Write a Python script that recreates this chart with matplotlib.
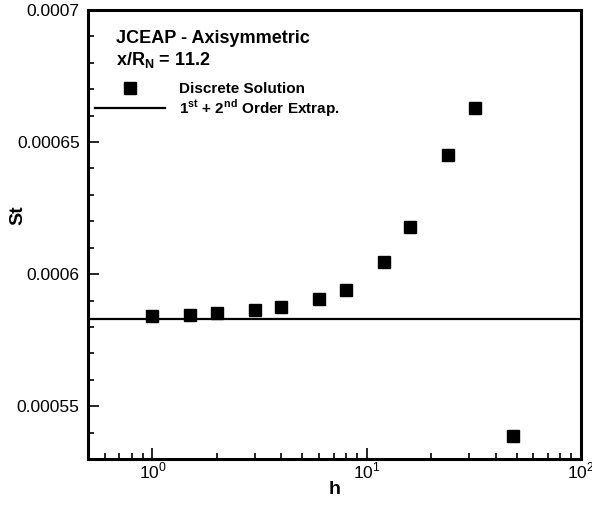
import math
import matplotlib
matplotlib.use('Agg')
import matplotlib.pyplot as plt
from matplotlib.ticker import MultipleLocator, FuncFormatter, LogLocator
from matplotlib.lines import Line2D

plt.rcParams['font.family'] = ['Liberation Sans', 'DejaVu Sans']
plt.rcParams['mathtext.fontset'] = 'custom'
plt.rcParams['mathtext.rm'] = 'Liberation Sans'
plt.rcParams['mathtext.bf'] = 'Liberation Sans:bold'

# grid spacing h and Stanton number from the discrete solutions
h = [1, 1.5, 2, 3, 4, 6, 8, 12, 16, 24, 32, 48]
st = [0.0005840, 0.0005845, 0.0005854, 0.0005864, 0.0005877, 0.0005907,
      0.0005940, 0.0006046, 0.0006177, 0.0006450, 0.0006630, 0.0005386]
st_extrap = 0.000583  # 1st + 2nd order extrapolated value

fig = plt.figure(figsize=(5.92, 5.08), dpi=100)
ax = fig.add_axes([88 / 592, 1 - 459 / 508, 493 / 592, 449 / 508])

ax.set_xscale('log')
ax.plot(h, st, 's', color='black', markersize=8.5, linestyle='none')
ax.axhline(st_extrap, color='black', linewidth=1.6)

ax.set_xlim(0.5, 100)
ax.set_ylim(0.00053, 0.0007)

ax.yaxis.set_major_locator(MultipleLocator(0.00005))
ax.yaxis.set_minor_locator(MultipleLocator(0.00001))
ax.yaxis.set_major_formatter(FuncFormatter(lambda v, p: ('%.5f' % v).rstrip('0')))
ax.xaxis.set_major_locator(LogLocator(base=10))
ax.xaxis.set_minor_locator(LogLocator(base=10, subs=range(2, 10)))
ax.xaxis.set_major_formatter(FuncFormatter(lambda v, p: r'10$^{%d}$' % round(math.log10(v))))

ax.tick_params(which='both', direction='in', top=False, right=False,
               labelsize=12.5, width=1.2, pad=6)
ax.tick_params(axis='x', which='both', pad=1)
ax.tick_params(which='major', length=8)
ax.tick_params(which='minor', length=4.5)
for sp in ax.spines.values():
    sp.set_linewidth(2.2)

ax.set_xlabel('h', fontsize=14, fontweight='bold')
ax.set_ylabel('St', fontsize=14, fontweight='bold')
ax.xaxis.set_label_coords(0.501, -0.049)
ax.yaxis.set_label_coords(-0.126, 0.543)

ax.text(0.057, 0.936, 'JCEAP - Axisymmetric', transform=ax.transAxes,
        fontsize=13, fontweight='bold', va='center')
ax.text(0.057, 0.888, r'x/R$_{\mathbf{N}}$ = 11.2', transform=ax.transAxes,
        fontsize=13, fontweight='bold', va='center')

handles = [Line2D([], [], marker='s', color='black', markersize=8.5, linestyle='none'),
           Line2D([], [], color='black', linewidth=1.6)]
labels = ['Discrete Solution', r'1$^{\mathbf{st}}$ + 2$^{\mathbf{nd}}$ Order Extrap.']
ax.legend(handles, labels, loc='upper left', bbox_to_anchor=(7 / 493, 1 - 72 / 449),
          frameon=False, borderpad=0, borderaxespad=0, handlelength=4.6,
          handletextpad=0.9, labelspacing=0.1, prop={'size': 11, 'weight': 'bold'})

fig.savefig('out.png', dpi=100)
